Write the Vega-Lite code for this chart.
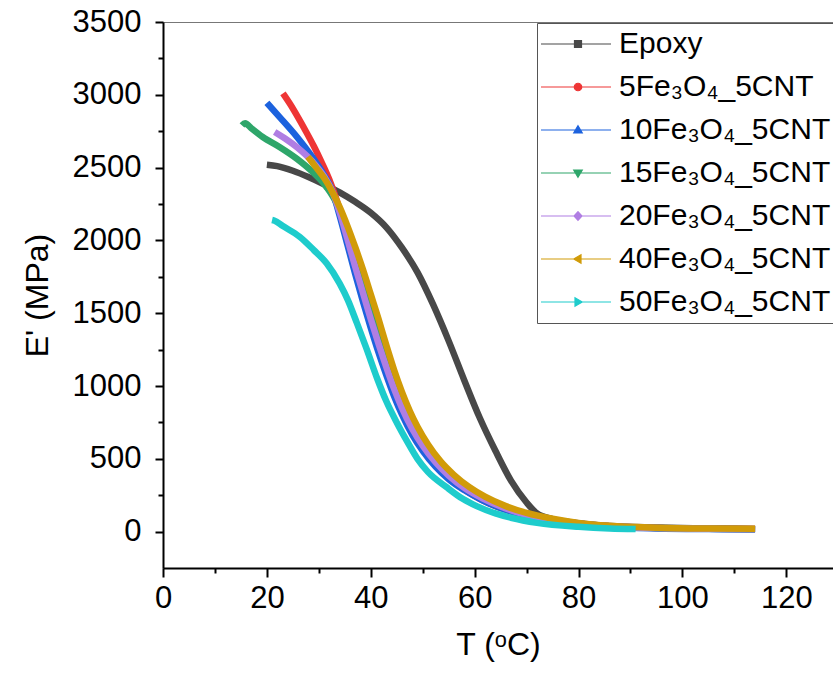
{
  "$schema": "https://vega.github.io/schema/vega-lite/v6.json",
  "width": 670,
  "height": 546,
  "autosize": {"type": "none"},
  "padding": {"left": 163, "top": 22, "right": 0, "bottom": 110},
  "background": "white",
  "config": {
    "font": "Liberation Sans",
    "view": {"stroke": "#777777", "strokeWidth": 1},
    "axis": {"grid": false, "domainColor": "black", "domainWidth": 2, "tickColor": "black", "tickWidth": 2, "labelColor": "black", "titleColor": "black", "labelFont": "Liberation Sans", "titleFont": "Liberation Sans", "labelFontSize": 31, "titleFontSize": 32, "titleFontWeight": "normal"}
  },
  "data": {"values": [
    {"s":"Epoxy","T":20,"E":2520},{"s":"Epoxy","T":22,"E":2510},{"s":"Epoxy","T":25,"E":2478},{"s":"Epoxy","T":28,"E":2435},{"s":"Epoxy","T":31,"E":2385},{"s":"Epoxy","T":34,"E":2330},{"s":"Epoxy","T":37,"E":2265},{"s":"Epoxy","T":40,"E":2190},{"s":"Epoxy","T":43,"E":2090},{"s":"Epoxy","T":46,"E":1950},{"s":"Epoxy","T":49,"E":1780},{"s":"Epoxy","T":52,"E":1560},{"s":"Epoxy","T":55,"E":1310},{"s":"Epoxy","T":58,"E":1040},{"s":"Epoxy","T":61,"E":780},{"s":"Epoxy","T":64,"E":555},{"s":"Epoxy","T":67,"E":350},{"s":"Epoxy","T":70,"E":200},{"s":"Epoxy","T":72,"E":125},{"s":"Epoxy","T":75,"E":85},{"s":"Epoxy","T":80,"E":57},{"s":"Epoxy","T":86,"E":38},{"s":"Epoxy","T":95,"E":28},{"s":"Epoxy","T":105,"E":22},{"s":"Epoxy","T":114,"E":18},
    {"s":"5Fe₃O₄_5CNT","T":23.1,"E":3010},{"s":"5Fe₃O₄_5CNT","T":24.5,"E":2935},{"s":"5Fe₃O₄_5CNT","T":26,"E":2845},{"s":"5Fe₃O₄_5CNT","T":27.5,"E":2750},{"s":"5Fe₃O₄_5CNT","T":29,"E":2650},{"s":"5Fe₃O₄_5CNT","T":30.5,"E":2540},{"s":"5Fe₃O₄_5CNT","T":32,"E":2420},{"s":"5Fe₃O₄_5CNT","T":33.5,"E":2270},{"s":"5Fe₃O₄_5CNT","T":35,"E":2090},{"s":"5Fe₃O₄_5CNT","T":36.5,"E":1890},{"s":"5Fe₃O₄_5CNT","T":38.5,"E":1640},{"s":"5Fe₃O₄_5CNT","T":40.5,"E":1400},{"s":"5Fe₃O₄_5CNT","T":42.5,"E":1170},{"s":"5Fe₃O₄_5CNT","T":44.5,"E":970},{"s":"5Fe₃O₄_5CNT","T":46.5,"E":800},{"s":"5Fe₃O₄_5CNT","T":48.5,"E":665},{"s":"5Fe₃O₄_5CNT","T":51,"E":530},{"s":"5Fe₃O₄_5CNT","T":54,"E":410},{"s":"5Fe₃O₄_5CNT","T":57,"E":315},{"s":"5Fe₃O₄_5CNT","T":61,"E":225},{"s":"5Fe₃O₄_5CNT","T":65,"E":162},{"s":"5Fe₃O₄_5CNT","T":70,"E":112},{"s":"5Fe₃O₄_5CNT","T":75,"E":78},{"s":"5Fe₃O₄_5CNT","T":80,"E":55},{"s":"5Fe₃O₄_5CNT","T":86,"E":37},{"s":"5Fe₃O₄_5CNT","T":95,"E":25},{"s":"5Fe₃O₄_5CNT","T":105,"E":20},{"s":"5Fe₃O₄_5CNT","T":114,"E":18},
    {"s":"10Fe₃O₄_5CNT","T":20,"E":2945},{"s":"10Fe₃O₄_5CNT","T":22.5,"E":2845},{"s":"10Fe₃O₄_5CNT","T":25.8,"E":2710},{"s":"10Fe₃O₄_5CNT","T":28.8,"E":2570},{"s":"10Fe₃O₄_5CNT","T":31,"E":2450},{"s":"10Fe₃O₄_5CNT","T":32.5,"E":2350},{"s":"10Fe₃O₄_5CNT","T":34,"E":2170},{"s":"10Fe₃O₄_5CNT","T":35.5,"E":1970},{"s":"10Fe₃O₄_5CNT","T":37,"E":1770},{"s":"10Fe₃O₄_5CNT","T":38.5,"E":1580},{"s":"10Fe₃O₄_5CNT","T":40,"E":1400},{"s":"10Fe₃O₄_5CNT","T":41.5,"E":1230},{"s":"10Fe₃O₄_5CNT","T":43,"E":1075},{"s":"10Fe₃O₄_5CNT","T":44.5,"E":930},{"s":"10Fe₃O₄_5CNT","T":46,"E":805},{"s":"10Fe₃O₄_5CNT","T":48,"E":665},{"s":"10Fe₃O₄_5CNT","T":50,"E":555},{"s":"10Fe₃O₄_5CNT","T":52.5,"E":445},{"s":"10Fe₃O₄_5CNT","T":55,"E":360},{"s":"10Fe₃O₄_5CNT","T":58,"E":285},{"s":"10Fe₃O₄_5CNT","T":61.5,"E":215},{"s":"10Fe₃O₄_5CNT","T":65.5,"E":155},{"s":"10Fe₃O₄_5CNT","T":70,"E":108},{"s":"10Fe₃O₄_5CNT","T":75,"E":75},{"s":"10Fe₃O₄_5CNT","T":80,"E":52},{"s":"10Fe₃O₄_5CNT","T":86,"E":34},{"s":"10Fe₃O₄_5CNT","T":95,"E":22},{"s":"10Fe₃O₄_5CNT","T":105,"E":17},{"s":"10Fe₃O₄_5CNT","T":114,"E":15},
    {"s":"15Fe₃O₄_5CNT","T":15.2,"E":2790},{"s":"15Fe₃O₄_5CNT","T":15.8,"E":2805},{"s":"15Fe₃O₄_5CNT","T":17,"E":2770},{"s":"15Fe₃O₄_5CNT","T":19.2,"E":2710},{"s":"15Fe₃O₄_5CNT","T":22.5,"E":2640},{"s":"15Fe₃O₄_5CNT","T":25.8,"E":2560},{"s":"15Fe₃O₄_5CNT","T":28.8,"E":2470},{"s":"15Fe₃O₄_5CNT","T":31.5,"E":2365},{"s":"15Fe₃O₄_5CNT","T":33.4,"E":2255},{"s":"15Fe₃O₄_5CNT","T":35,"E":2110},{"s":"15Fe₃O₄_5CNT","T":36.5,"E":1935},{"s":"15Fe₃O₄_5CNT","T":38,"E":1755},{"s":"15Fe₃O₄_5CNT","T":39.5,"E":1580},{"s":"15Fe₃O₄_5CNT","T":41,"E":1410},{"s":"15Fe₃O₄_5CNT","T":42.5,"E":1245},{"s":"15Fe₃O₄_5CNT","T":44,"E":1095},{"s":"15Fe₃O₄_5CNT","T":45.5,"E":955},{"s":"15Fe₃O₄_5CNT","T":47.5,"E":800},{"s":"15Fe₃O₄_5CNT","T":49.5,"E":670},{"s":"15Fe₃O₄_5CNT","T":52,"E":535},{"s":"15Fe₃O₄_5CNT","T":55,"E":415},{"s":"15Fe₃O₄_5CNT","T":58,"E":320},{"s":"15Fe₃O₄_5CNT","T":61.5,"E":238},{"s":"15Fe₃O₄_5CNT","T":65.5,"E":172},{"s":"15Fe₃O₄_5CNT","T":70,"E":118},{"s":"15Fe₃O₄_5CNT","T":75,"E":82},{"s":"15Fe₃O₄_5CNT","T":80,"E":56},{"s":"15Fe₃O₄_5CNT","T":86,"E":37},{"s":"15Fe₃O₄_5CNT","T":95,"E":25},{"s":"15Fe₃O₄_5CNT","T":105,"E":19},{"s":"15Fe₃O₄_5CNT","T":114,"E":16},
    {"s":"20Fe₃O₄_5CNT","T":21.5,"E":2745},{"s":"20Fe₃O₄_5CNT","T":23.5,"E":2700},{"s":"20Fe₃O₄_5CNT","T":25.8,"E":2640},{"s":"20Fe₃O₄_5CNT","T":28.8,"E":2540},{"s":"20Fe₃O₄_5CNT","T":31,"E":2440},{"s":"20Fe₃O₄_5CNT","T":32.5,"E":2345},{"s":"20Fe₃O₄_5CNT","T":34,"E":2195},{"s":"20Fe₃O₄_5CNT","T":35.5,"E":2010},{"s":"20Fe₃O₄_5CNT","T":37,"E":1820},{"s":"20Fe₃O₄_5CNT","T":38.5,"E":1640},{"s":"20Fe₃O₄_5CNT","T":40,"E":1460},{"s":"20Fe₃O₄_5CNT","T":41.5,"E":1290},{"s":"20Fe₃O₄_5CNT","T":43,"E":1130},{"s":"20Fe₃O₄_5CNT","T":44.5,"E":980},{"s":"20Fe₃O₄_5CNT","T":46,"E":850},{"s":"20Fe₃O₄_5CNT","T":48,"E":705},{"s":"20Fe₃O₄_5CNT","T":50,"E":590},{"s":"20Fe₃O₄_5CNT","T":52.5,"E":475},{"s":"20Fe₃O₄_5CNT","T":55,"E":385},{"s":"20Fe₃O₄_5CNT","T":58,"E":300},{"s":"20Fe₃O₄_5CNT","T":61.5,"E":228},{"s":"20Fe₃O₄_5CNT","T":65.5,"E":166},{"s":"20Fe₃O₄_5CNT","T":70,"E":115},{"s":"20Fe₃O₄_5CNT","T":75,"E":80},{"s":"20Fe₃O₄_5CNT","T":80,"E":55},{"s":"20Fe₃O₄_5CNT","T":86,"E":36},{"s":"20Fe₃O₄_5CNT","T":95,"E":24},{"s":"20Fe₃O₄_5CNT","T":105,"E":19},{"s":"20Fe₃O₄_5CNT","T":114,"E":16},
    {"s":"40Fe₃O₄_5CNT","T":27.9,"E":2575},{"s":"40Fe₃O₄_5CNT","T":29.5,"E":2500},{"s":"40Fe₃O₄_5CNT","T":31,"E":2430},{"s":"40Fe₃O₄_5CNT","T":32.5,"E":2340},{"s":"40Fe₃O₄_5CNT","T":34,"E":2230},{"s":"40Fe₃O₄_5CNT","T":35.5,"E":2100},{"s":"40Fe₃O₄_5CNT","T":37,"E":1955},{"s":"40Fe₃O₄_5CNT","T":38.5,"E":1800},{"s":"40Fe₃O₄_5CNT","T":40,"E":1630},{"s":"40Fe₃O₄_5CNT","T":41.5,"E":1460},{"s":"40Fe₃O₄_5CNT","T":43,"E":1280},{"s":"40Fe₃O₄_5CNT","T":44.5,"E":1110},{"s":"40Fe₃O₄_5CNT","T":46,"E":960},{"s":"40Fe₃O₄_5CNT","T":47.5,"E":830},{"s":"40Fe₃O₄_5CNT","T":49,"E":720},{"s":"40Fe₃O₄_5CNT","T":51,"E":600},{"s":"40Fe₃O₄_5CNT","T":53.5,"E":480},{"s":"40Fe₃O₄_5CNT","T":56,"E":390},{"s":"40Fe₃O₄_5CNT","T":59,"E":305},{"s":"40Fe₃O₄_5CNT","T":62,"E":240},{"s":"40Fe₃O₄_5CNT","T":66,"E":175},{"s":"40Fe₃O₄_5CNT","T":70,"E":128},{"s":"40Fe₃O₄_5CNT","T":75,"E":88},{"s":"40Fe₃O₄_5CNT","T":80,"E":60},{"s":"40Fe₃O₄_5CNT","T":86,"E":40},{"s":"40Fe₃O₄_5CNT","T":95,"E":27},{"s":"40Fe₃O₄_5CNT","T":105,"E":21},{"s":"40Fe₃O₄_5CNT","T":114,"E":19},
    {"s":"50Fe₃O₄_5CNT","T":21,"E":2140},{"s":"50Fe₃O₄_5CNT","T":21.5,"E":2135},{"s":"50Fe₃O₄_5CNT","T":23,"E":2100},{"s":"50Fe₃O₄_5CNT","T":26.3,"E":2025},{"s":"50Fe₃O₄_5CNT","T":29,"E":1935},{"s":"50Fe₃O₄_5CNT","T":31.5,"E":1843},{"s":"50Fe₃O₄_5CNT","T":34,"E":1705},{"s":"50Fe₃O₄_5CNT","T":35.6,"E":1590},{"s":"50Fe₃O₄_5CNT","T":37.3,"E":1435},{"s":"50Fe₃O₄_5CNT","T":39.2,"E":1255},{"s":"50Fe₃O₄_5CNT","T":41.2,"E":1055},{"s":"50Fe₃O₄_5CNT","T":43,"E":895},{"s":"50Fe₃O₄_5CNT","T":45,"E":750},{"s":"50Fe₃O₄_5CNT","T":47,"E":620},{"s":"50Fe₃O₄_5CNT","T":49,"E":500},{"s":"50Fe₃O₄_5CNT","T":51,"E":410},{"s":"50Fe₃O₄_5CNT","T":54.6,"E":305},{"s":"50Fe₃O₄_5CNT","T":57.7,"E":225},{"s":"50Fe₃O₄_5CNT","T":60.4,"E":175},{"s":"50Fe₃O₄_5CNT","T":64,"E":125},{"s":"50Fe₃O₄_5CNT","T":67,"E":95},{"s":"50Fe₃O₄_5CNT","T":72,"E":60},{"s":"50Fe₃O₄_5CNT","T":80,"E":33},{"s":"50Fe₃O₄_5CNT","T":86,"E":22},{"s":"50Fe₃O₄_5CNT","T":91,"E":18}
  ]},
  "mark": {"type": "line", "strokeWidth": 6.5, "interpolate": "monotone"},
  "encoding": {
    "x": {"field": "T", "type": "quantitative", "scale": {"domain": [0, 129], "nice": false},
      "axis": {"title": "T (ᵒC)", "values": [0,10,20,30,40,50,60,70,80,90,100,110,120],
        "labelExpr": "datum.value % 20 === 0 ? datum.label : ''",
        "tickSize": {"condition": {"test": "datum.value % 20 === 0", "value": 9}, "value": 5},
        "domainColor": "black", "domainWidth": 2, "tickColor": "black", "tickWidth": 2, "zindex": 1,
        "labelPadding": 6, "titlePadding": 16, "labelFlush": false}},
    "y": {"field": "E", "type": "quantitative", "scale": {"domain": [-250, 3500], "nice": false, "zero": false},
      "axis": {"title": "E' (MPa)", "values": [0,250,500,750,1000,1250,1500,1750,2000,2250,2500,2750,3000,3250,3500],
        "labelExpr": "datum.value % 500 === 0 ? datum.label : ''",
        "tickSize": {"condition": {"test": "datum.value % 500 === 0", "value": 8}, "value": 5},
        "domainColor": "black", "domainWidth": 2, "tickColor": "black", "tickWidth": 2, "zindex": 1,
        "labelPadding": 14, "titlePadding": 18, "labelFlush": false, "format": "d"}},
    "color": {"field": "s", "type": "nominal",
      "scale": {"domain": ["Epoxy","5Fe₃O₄_5CNT","10Fe₃O₄_5CNT","15Fe₃O₄_5CNT","20Fe₃O₄_5CNT","40Fe₃O₄_5CNT","50Fe₃O₄_5CNT"],
        "range": ["#484848","#ee3535","#1c62de","#2ea66a","#b07ee3","#d19b08","#1ecccc"]},
      "sort": ["Epoxy","5Fe₃O₄_5CNT","10Fe₃O₄_5CNT","15Fe₃O₄_5CNT","20Fe₃O₄_5CNT","40Fe₃O₄_5CNT","50Fe₃O₄_5CNT"],
      "legend": {"title": null, "orient": "none", "legendX": 374, "legendY": 1,
        "labelFont": "Liberation Sans", "labelFontSize": 30, "labelColor": "black", "labelLimit": 400,
        "symbolSize": 100, "symbolType": "circle", "labelOffset": 46, "rowPadding": 13, "padding": 6,
        "strokeColor": "#555555", "fillColor": "white",
        "encode": {"symbols": {"update": {
          "shape": {"signal": "['M-3.4,0H10.6M3.3,-0.7h1.4v1.4h-1.4z','M-3.4,0H10.6M3.25,0a0.75,0.75 0 1,0 1.5,0a0.75,0.75 0 1,0 -1.5,0','M-3.4,0H10.6M4,-0.85L4.85,0.6H3.15Z','M-3.4,0H10.6M4,0.85L4.85,-0.6H3.15Z','M-3.4,0H10.6M4,-0.85L4.8,0L4,0.85L3.2,0Z','M-3.4,0H10.6M3.15,0L4.6,-0.85V0.85Z','M-3.4,0H10.6M4.85,0L3.4,-0.85V0.85Z'][datum.index]"},
          "fill": {"scale": "color", "field": "value"},
          "stroke": {"scale": "color", "field": "value"},
          "strokeWidth": {"value": 1.2},
          "opacity": {"value": 1}
        }}}}
    },
    "order": {"field": "T", "type": "quantitative"}
  }
}
